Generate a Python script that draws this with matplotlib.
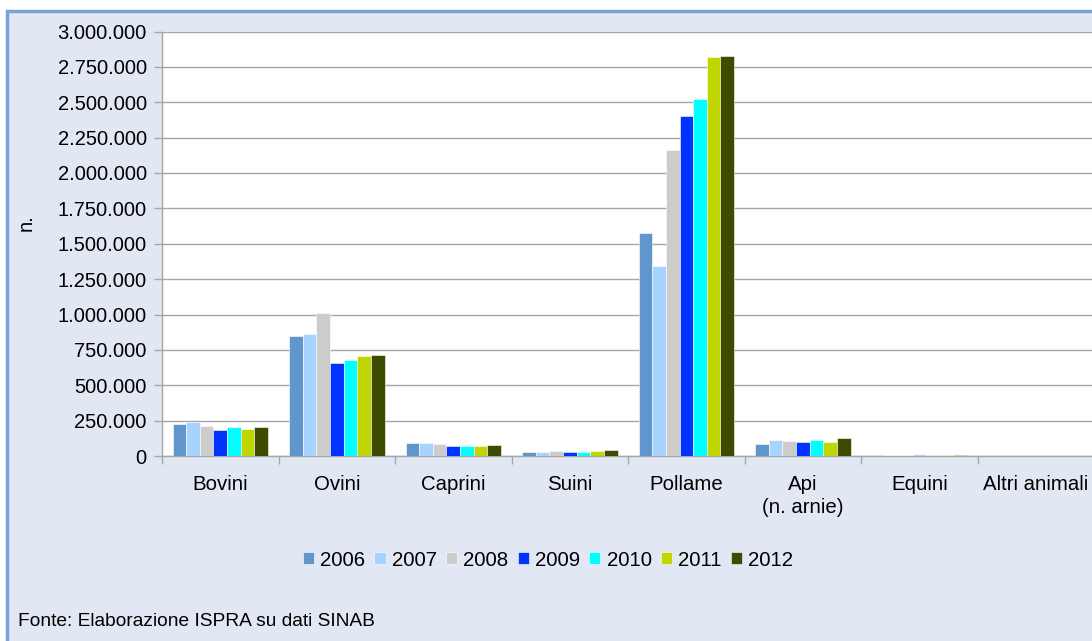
import matplotlib
matplotlib.use("Agg")
import matplotlib.pyplot as plt
from matplotlib.patches import Rectangle
from matplotlib.ticker import FuncFormatter
import numpy as np

plt.rcParams["font.family"] = ["Liberation Sans", "DejaVu Sans"]

categories = ["Bovini", "Ovini", "Caprini", "Suini", "Pollame", "Api\n(n. arnie)", "Equini", "Altri animali"]
years = ["2006", "2007", "2008", "2009", "2010", "2011", "2012"]
colors = ["#6096CC", "#A6D4FF", "#CCCCCC", "#0033FF", "#00FFFF", "#BFD600", "#3E4C00"]

# one list per year, values per category
v2006 = [226000, 851000, 90000, 30000, 1576000, 85000, 7000, 3000]
v2007 = [243000, 863000, 94000, 26000, 1340000, 113000, 7000, 3000]
v2008 = [214000, 1010000, 87000, 35000, 2160000, 104000, 8000, 3000]
v2009 = [184000, 660000, 73000, 28000, 2406000, 101000, 8000, 3000]
v2010 = [205000, 677000, 73000, 30000, 2524000, 115000, 8000, 3000]
v2011 = [193000, 708000, 74000, 35000, 2821000, 99000, 8000, 3000]
v2012 = [205000, 712000, 80000, 42000, 2830000, 130000, 9000, 3000]
series = [v2006, v2007, v2008, v2009, v2010, v2011, v2012]

bg = "#E2E8F3"
fig = plt.figure(figsize=(10.92, 6.41), dpi=100)
fig.patch.set_facecolor("white")

# outer chart frame
W, H = 1092, 641
frame = Rectangle((6.5 / W, -0.1), 1.2, (H - 11) / H + 0.1, transform=fig.transFigure,
                  facecolor=bg, edgecolor="#7BA1D6", linewidth=2.5, zorder=-10)
fig.patches.append(frame)

ax = fig.add_axes([162 / W, (H - 456) / H, 1 - 162 / W + 0.002, (456 - 31.5) / H])
ax.set_facecolor("white")

n = len(years)
x = np.arange(len(categories))
bw = 0.117
for i, (vals, c, yr) in enumerate(zip(series, colors, years)):
    ax.bar(x + (i - (n - 1) / 2) * bw, vals, width=bw, color=c, label=yr,
           edgecolor="white", linewidth=0.4, zorder=3)

ax.set_xlim(-0.5, len(categories) - 0.5)
ax.set_ylim(0, 3000000)
ax.set_yticks(np.arange(0, 3000001, 250000))
ax.yaxis.set_major_formatter(FuncFormatter(lambda v, p: f"{int(v):,}".replace(",", ".")))
ax.grid(axis="y", color="#A6A6A6", linewidth=1, zorder=0)

ax.set_xticks(x)
ax.set_xticklabels(categories, fontsize=14.7, linespacing=1.25)
ax.set_xticks(np.arange(-0.5, len(categories), 1), minor=True)
ax.tick_params(axis="x", which="major", length=0, pad=14)
ax.tick_params(axis="x", which="minor", length=6, color="#A6A6A6", width=1)
ax.tick_params(axis="y", length=6, color="#A6A6A6", width=1, labelsize=14.5, pad=5)

for s in ["top", "right"]:
    ax.spines[s].set_visible(False)
for s in ["left", "bottom"]:
    ax.spines[s].set_color("#A6A6A6")
    ax.spines[s].set_linewidth(1)

ax.set_ylabel("n.", fontsize=14.5, labelpad=8)
ax.yaxis.set_label_coords(-0.135, 0.55)

handles, labels = ax.get_legend_handles_labels()
fig.legend(handles, labels, loc="center", bbox_to_anchor=(548 / W, (H - 560) / H),
           ncol=7, frameon=False, fontsize=14.7, handlelength=0.55, handleheight=0.55,
           handletextpad=0.3, columnspacing=0.45)

fig.text(18 / W, (H - 622) / H, "Fonte: Elaborazione ISPRA su dati SINAB",
         fontsize=13.8, va="center", ha="left")

fig.savefig("out.png", dpi=100, facecolor=fig.get_facecolor())
